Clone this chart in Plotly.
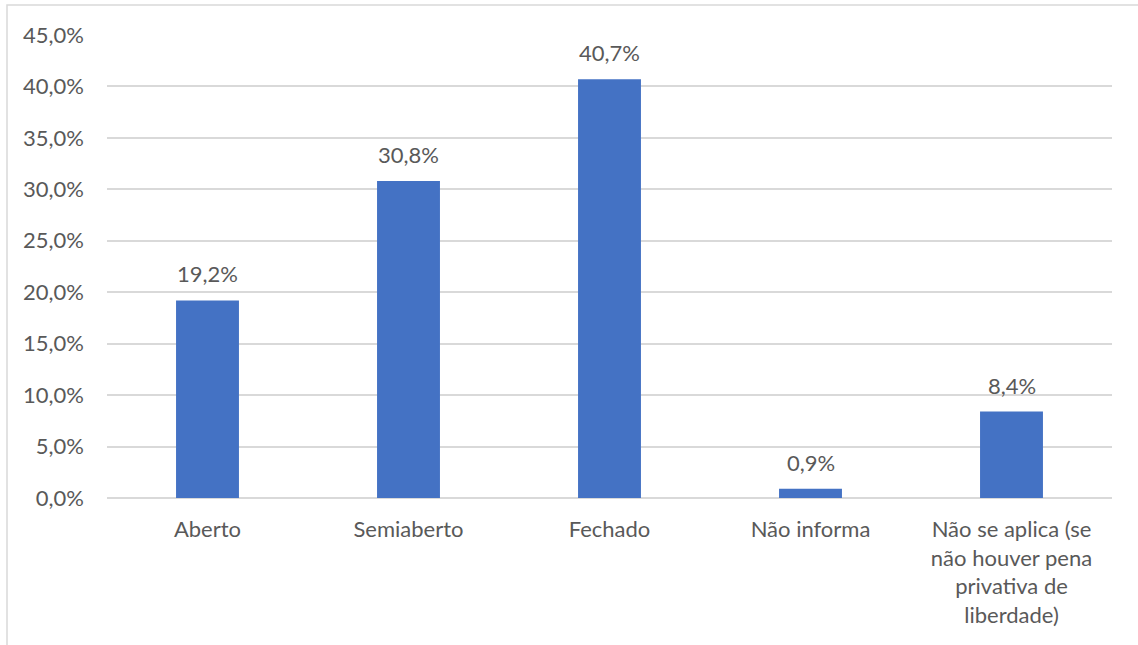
import plotly.graph_objects as go

# Regime de cumprimento de pena
categorias = [
    "Aberto",
    "Semiaberto",
    "Fechado",
    "Não informa",
    "Não se aplica (se<br>não houver pena<br>privativa de<br>liberdade)",
]
percentuais = [19.2, 30.8, 40.7, 0.9, 8.4]
rotulos = ["19,2%", "30,8%", "40,7%", "0,9%", "8,4%"]
ticks_y = [0, 5, 10, 15, 20, 25, 30, 35, 40, 45]
ticks_y_texto = ["0,0%", "5,0%", "10,0%", "15,0%", "20,0%", "25,0%",
                 "30,0%", "35,0%", "40,0%", "45,0%"]

cinza = "#595959"
fonte = "Lato"
tam = 22

fig = go.Figure(
    go.Bar(
        x=categorias,
        y=percentuais,
        marker=dict(color="#4472C4", line=dict(width=0)),
        hoverinfo="skip",
    )
)

# rótulos de dados acima de cada barra
for cat, val, txt in zip(categorias, percentuais, rotulos):
    fig.add_annotation(
        x=cat, y=val, text=txt, showarrow=False,
        yanchor="bottom", yshift=11,
        font=dict(family=fonte, size=tam, color=cinza),
    )

fig.update_layout(
    width=1138,
    height=645,
    margin=dict(l=107, r=26, t=35, b=147),
    paper_bgcolor="white",
    plot_bgcolor="white",
    bargap=0.687,
    showlegend=False,
    font=dict(family=fonte, size=tam, color=cinza),
)

fig.update_xaxes(
    showgrid=False,
    showline=False,
    ticks="",
    tickfont=dict(family=fonte, size=tam, color=cinza),
    ticklabelstandoff=16,
)

fig.update_yaxes(
    range=[0, 45],
    tickvals=ticks_y,
    ticktext=ticks_y_texto,
    showgrid=True,
    gridcolor="#D9D9D9",
    gridwidth=1.5,
    zeroline=True,
    zerolinecolor="#D9D9D9",
    zerolinewidth=1.5,
    showline=False,
    ticks="",
    tickfont=dict(family=fonte, size=tam, color=cinza),
    ticklabelstandoff=22,
)

# moldura da área do gráfico
fig.add_shape(
    type="rect", xref="paper", yref="paper",
    x0=-100 / 1005, x1=1.2, y0=-0.5, y1=(498 - 5) / 463,
    line=dict(color="#D9D9D9", width=1.5), fillcolor="rgba(0,0,0,0)",
    layer="below",
)

fig.write_html("out.html")
